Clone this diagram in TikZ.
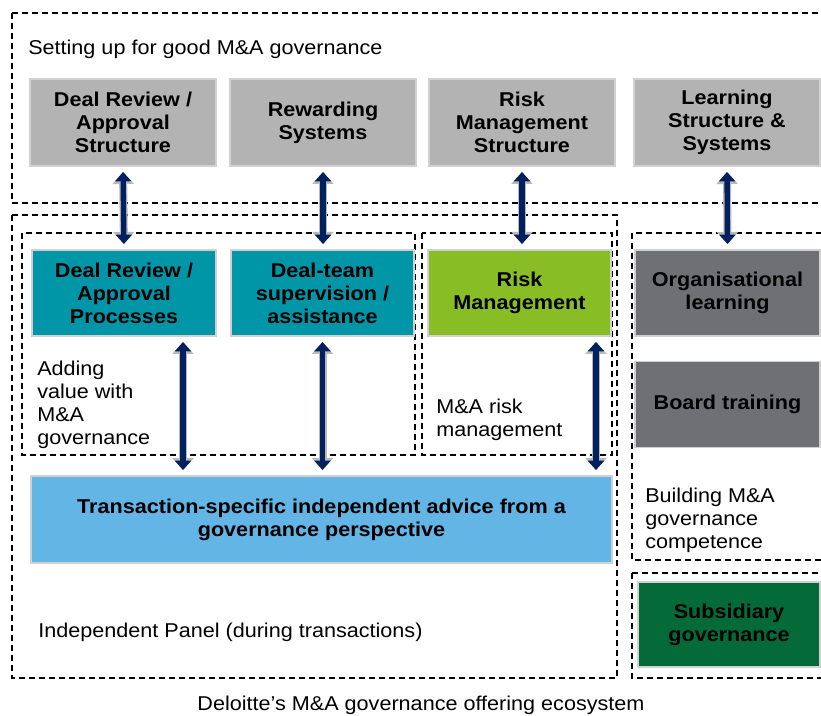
\documentclass[tikz,border=0pt]{standalone}
\usepackage{fontspec}
\setmainfont{Liberation Sans}[FakeStretch=1.08]
\usepackage{xcolor}
\usetikzlibrary{arrows.meta,positioning,calc}

\definecolor{boxgray}{RGB}{179,179,179}
\definecolor{boxteal}{RGB}{0,150,168}
\definecolor{boxgreen}{RGB}{137,189,37}
\definecolor{boxdark}{RGB}{110,112,115}
\definecolor{boxblue}{RGB}{98,181,229}
\definecolor{boxforest}{RGB}{4,106,56}
\definecolor{navy}{RGB}{0,32,96}

\begin{document}
\begin{tikzpicture}[x=0.75pt,y=-0.75pt,
 font=\fontsize{15}{17.25}\selectfont,
 box/.style={draw=black!18,line width=1pt,align=center,font=\fontsize{15}{17.25}\selectfont\bfseries,
   minimum width=#1*0.75pt,minimum height=86*0.75pt,inner sep=2pt},
 panel/.style={draw=black,line width=1.1pt,dash pattern=on 4.5pt off 3pt},
 lbl/.style={anchor=west,align=left,inner sep=0pt},
 dbl/.style={<->,draw=navy,line width=4pt,>={Triangle[length=7pt,width=12pt]},
   shorten <=4pt,shorten >=4pt,
   preaction={draw=black!28,line width=6pt,<->,>={Triangle[length=9pt,width=15.5pt]}}}]
 \clip (0,0) rectangle (821,716);

 % dashed panels
 \draw[panel] (12,13) rectangle (830,203);
 \draw[panel] (12,215) rectangle (617,678);
 \draw[panel] (22,233) rectangle (415,455);
 \draw[panel] (422,233) rectangle (612,455);
 \draw[panel] (632,233) rectangle (830,560);
 \draw[panel] (632,573) rectangle (830,678);

 \node[lbl] (setup) at (28,49) {Setting up for good M\&A governance};

 % structures
 \node[box=186,fill=boxgray,minimum height=87*0.75pt] (drs) at (123,122.5) {Deal Review /\\Approval\\Structure};
 \node[box=186,fill=boxgray,minimum height=87*0.75pt] (rws) at (323,122.5) {Rewarding\\Systems};
 \node[box=186,fill=boxgray,minimum height=87*0.75pt] (rms) at (522,122.5) {Risk\\Management\\Structure};
 \node[box=186,fill=boxgray,minimum height=87*0.75pt] (lss) at (727,122.5) {Learning\\Structure \&\\Systems};

 % processes
 \node[box=184,fill=boxteal] (drp) at (124,293) {Deal Review /\\Approval\\Processes};
 \node[box=183,fill=boxteal] (dts) at (322.5,293) {Deal-team\\supervision /\\assistance};
 \node[box=183,fill=boxgreen] (rm) at (519.5,293) {Risk\\Management};
 \node[box=185,fill=boxdark] (orl) at (727.5,293) {Organisational\\learning};
 \node[box=185,fill=boxdark,below=24*0.75pt of orl] (brd) {Board training};

 \node[box=581,fill=boxblue,minimum height=87*0.75pt] (trn) at (321.5,519.5) {Transaction-specific independent advice from a\\governance perspective};
 \node[box=182,fill=boxforest,minimum height=85*0.75pt] (sub) at (729,624.5) {Subsidiary\\governance};

 % texts
 \node[lbl] (addv) at (37,405) {Adding\\value with\\M\&A\\governance};
 \node[lbl] (mrisk) at (436,420) {M\&A risk\\management};
 \node[lbl] (bld) at (645,520) {Building M\&A\\governance\\competence};
 \node[lbl] (indp) at (38,632) {Independent Panel (during transactions)};
 \node (eco) at (421,705) {Deloitte’s M\&A governance offering ecosystem};

 % links
 \draw[dbl] (drs.south) -- (drp.north);
 \draw[dbl] (rws.south) -- (rws.south |- dts.north);
 \draw[dbl] (rms.south) -- (rms.south |- rm.north);
 \draw[dbl] (lss.south) -- (orl.north);

 \draw[dbl] ($(drp.south)+(59,0)$) coordinate (a1) -- (a1 |- trn.north);
 \draw[dbl] (dts.south) -- (dts.south |- trn.north);
 \draw[dbl] ($(rm.south)+(76.5,0)$) coordinate (a3) -- (a3 |- trn.north);
\end{tikzpicture}
\end{document}
